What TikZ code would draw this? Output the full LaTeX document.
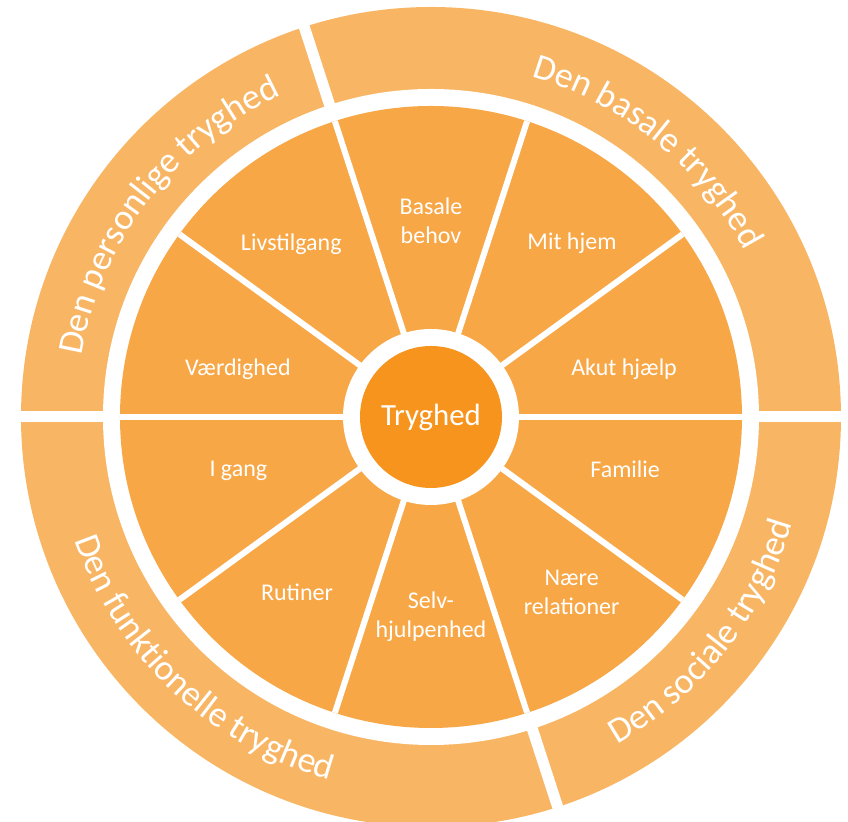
\documentclass[tikz,border=0pt]{standalone}
\usepackage{fontspec}
\setmainfont{Carlito}
\usetikzlibrary{decorations.text}
\definecolor{ringorange}{RGB}{248,182,101}
\definecolor{wheelorange}{RGB}{247,167,70}
\definecolor{coreorange}{RGB}{247,148,30}
\tikzset{
  part/.style={text=white,font=\fontsize{12}{14.5}\selectfont,align=center},
  ringtext/.style={decorate,decoration={text along path,text align=center,
    text color=white,text={|\fontsize{18}{20}\selectfont|#1}}}
}
\begin{document}
\begin{tikzpicture}[x=0.5pt,y=0.5pt]
	\clip (-431,-405) rectangle (417,417);
	% outer ring
	\fill[ringorange] (0,0) circle (410);
	\fill[white] (0,0) circle (328);
	\foreach \a in {0,108,180,288}
	  \draw[white,line width=5.5pt] (0,0) -- (\a:420);
	% wheel
	\fill[wheelorange] (0,0) circle (311);
	\foreach \a in {0,36,...,324}
	  \draw[white,line width=3pt] (0,0) -- (\a:311);
	\fill[white] (0,0) circle (88);
	\node[circle,fill=coreorange,minimum size=71pt,inner sep=0pt,text=white,
	  font=\fontsize{15.4}{18}\selectfont] (core) at (0,0) {Tryghed};
	\node[part] (akut) at (14:199) {Akut hjælp};
	\node[part] (hjem) at (51:224) {Mit hjem};
	\node[part] (basale) at (90:196) {Basale\\behov};
	\node[part] (livstil) at (129:222) {Livstilgang};
	\node[part] (vaerdighed) at (166:199) {Værdighed};
	\node[part] (igang) at (195.6:200) {I gang};
	\node[part] (rutiner) at (232.7:221) {Rutiner};
	\node[part] (selv) at (270:200) {Selv-\\hjulpenhed};
	\node[part] (naere) at (308.7:225) {Nære\\relationer};
	\node[part] (familie) at (345:201) {Familie};
	% ring texts
	\path[ringtext=Den personlige tryghed] (192.5:355) arc[start angle=192.5,end angle=92.5,radius=355];
	\path[ringtext=Den basale tryghed] (100.75:355) arc[start angle=100.75,end angle=0.75,radius=355];
	\path[ringtext=Den funktionelle tryghed] (176.75:377) arc[start angle=176.75,end angle=276.75,radius=377];
	\path[ringtext=Den sociale tryghed] (-88.35:377) arc[start angle=-88.35,end angle=11.65,radius=377];
\end{tikzpicture}
\end{document}
